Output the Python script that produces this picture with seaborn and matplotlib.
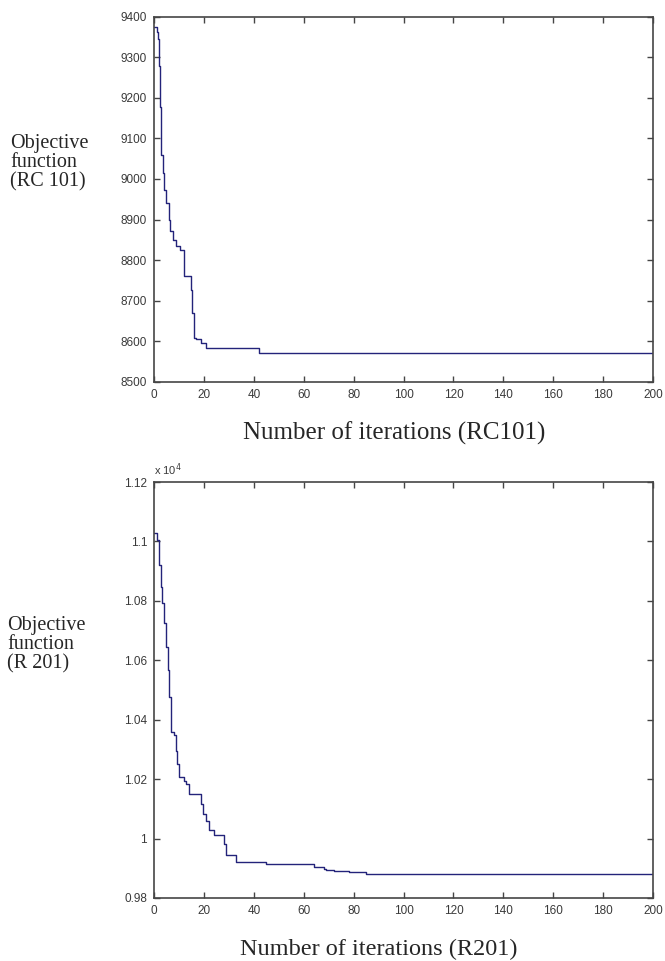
import matplotlib
matplotlib.use("Agg")
import matplotlib.pyplot as plt
import seaborn as sns
import pandas as pd


# RC101 run: (iteration, objective) breakpoints of the step curve
rc101_iter = [0, 1, 1.5, 2, 2.4, 3, 3.5, 4, 5, 6, 6.6, 7.5, 9, 10.4, 12, 14.7,
              15.3, 16, 17, 19, 21, 42, 200]
rc101_obj = [9373, 9363, 9344, 9278, 9178, 9059, 9015, 8973, 8941, 8900, 8871,
             8850, 8834, 8826, 8760, 8727, 8671, 8609, 8607, 8597, 8583, 8571, 8571]

# R201 run
r201_iter = [0, 1, 2, 2.7, 3.3, 4, 5, 5.5, 6, 6.7, 7, 8, 8.7, 9.3, 10, 12, 13, 14,
             18.8, 19.8, 21, 22, 24, 28, 29, 33, 45, 64, 68, 69, 72, 78, 85, 200]
r201_obj = [11030, 11004, 10920, 10847, 10792, 10724, 10645, 10566, 10476, 10421,
            10358, 10347, 10296, 10251, 10206, 10195, 10184, 10150, 10116, 10082,
            10060, 10030, 10011, 9980, 9944, 9921, 9914, 9904, 9899, 9893, 9890,
            9886, 9880, 9880]

x_ticks = list(range(0, 201, 20))
rc101_yticks = list(range(8500, 9401, 100))
r201_yticks = list(range(9800, 11201, 200))
r201_ylabels = ["0.98", "1", "1.02", "1.04", "1.06", "1.08", "1.1", "1.12"]

sns.set_style("ticks")
plt.rcParams["font.family"] = ["Liberation Sans", "DejaVu Sans"]

line_color = "#23237a"
spine_color = "#454545"
serif = ["Liberation Serif", "DejaVu Serif"]

fig = plt.figure(figsize=(6.65, 9.61), dpi=100)
ax1 = fig.add_axes([0.2316, 0.6025, 0.7504, 0.3803])
ax2 = fig.add_axes([0.2316, 0.0656, 0.7504, 0.4328])

df1 = pd.DataFrame({"iter": rc101_iter, "obj": rc101_obj})
df2 = pd.DataFrame({"iter": r201_iter, "obj": r201_obj})

sns.lineplot(data=df1, x="iter", y="obj", ax=ax1, color=line_color,
             linewidth=1.0, drawstyle="steps-post")
sns.lineplot(data=df2, x="iter", y="obj", ax=ax2, color=line_color,
             linewidth=1.0, drawstyle="steps-post")

ax1.set_ylim(8500, 9400)
ax1.set_yticks(rc101_yticks)
ax2.set_ylim(9800, 11200)
ax2.set_yticks(r201_yticks)
ax2.set_yticklabels(r201_ylabels)

for ax in (ax1, ax2):
    ax.set_xlim(0, 200)
    ax.set_xticks(x_ticks)
    ax.set_xlabel("")
    ax.set_ylabel("")
    for s in ax.spines.values():
        s.set_visible(True)
        s.set_color(spine_color)
        s.set_linewidth(1.2)
    ax.tick_params(direction="in", length=4.5, width=1.0, color=spine_color,
                   top=True, right=True, labelsize=8.5, labelcolor="#3a3a3a", pad=5)

ax2.text(0.0, 1.01, "x 10$^{4}$", transform=ax2.transAxes, fontsize=8,
         color="#3a3a3a", ha="left", va="bottom")

fig.text(0.015, 0.8304, "Objective\nfunction\n(RC 101)", family=serif,
         fontsize=14.5, ha="left", va="center", linespacing=1.0)
fig.text(0.0105, 0.3288, "Objective\nfunction\n(R 201)", family=serif,
         fontsize=14.5, ha="left", va="center", linespacing=1.0)
fig.text(0.3654, 0.5494, "Number of iterations (RC101)", family=serif,
         fontsize=18, ha="left", va="center")
fig.text(0.361, 0.0125, "Number of iterations (R201)", family=serif,
         fontsize=17.5, ha="left", va="center")

fig.savefig("out.png", dpi=100, facecolor="white")
